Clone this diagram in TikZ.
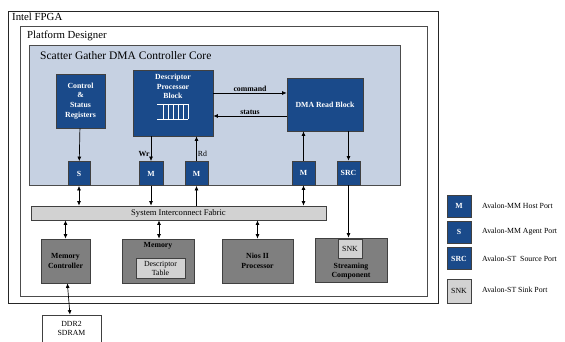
\documentclass[tikz,border=0pt]{standalone}
\usepackage{fontspec}
\setmainfont{Liberation Serif}
\usetikzlibrary{arrows.meta,positioning,calc}

\definecolor{dmablue}{HTML}{1A4A8A}
\definecolor{corefill}{HTML}{C6D1E2}
\definecolor{compgrey}{HTML}{7F7F7F}
\definecolor{fabricgrey}{HTML}{D2D2D2}

\begin{document}
\begin{tikzpicture}[x=1pt, y=-1pt,
  frame/.style={draw=black!85, line width=0.8pt, inner sep=0pt},
  block/.style={rectangle, draw=black!75, line width=0.7pt, fill=dmablue, text=white, font=\fontsize{7.8}{9.8}\selectfont\bfseries, align=center, inner sep=1pt},
  port/.style={block, minimum width=23pt, minimum height=24pt},
  comp/.style={rectangle, draw=black!75, line width=0.7pt, fill=compgrey, font=\fontsize{7.8}{9.8}\selectfont\bfseries, align=center, inner sep=0pt},
  lightbox/.style={rectangle, draw=black!75, line width=0.7pt, fill=fabricgrey, font=\fontsize{7.8}{9}\selectfont, align=center, inner sep=0pt},
  trans/.style={-{Latex[length=4.5pt,width=4pt]}, line width=0.7pt},
  both/.style={{Latex[length=4.5pt,width=4pt]}-{Latex[length=4.5pt,width=4pt]}, line width=0.7pt},
  lbl/.style={font=\fontsize{7.8}{9.5}\selectfont\bfseries, inner sep=1pt},
  legtext/.style={font=\fontsize{7.8}{9}\selectfont, anchor=west, inner sep=0pt}
]
\useasboundingbox (0,0) rectangle (565,342);
\fill[white] (0,0) rectangle (565,342);

% Frames
\draw[frame] (8,11) rectangle (438,303);
\node[anchor=base west, font=\fontsize{10.8}{12}\selectfont, inner sep=0pt] (fpga) at (12,21) {Intel FPGA};
\draw[frame, draw=black!70] (20,26) rectangle (427,296);
\node[anchor=base west, font=\fontsize{10.8}{12}\selectfont, inner sep=0pt] (pd) at (27,39) {Platform Designer};
\draw[draw=black!70, line width=0.8pt, fill=corefill] (29,45) rectangle (400,185);
\node[anchor=base west, font=\fontsize{11.5}{13}\selectfont, inner sep=0pt] (core) at (40,60) {Scatter Gather DMA Controller Core};

% Core blocks
\node[block, minimum width=49pt, minimum height=54pt] (csr) at (80.5,101) {Control\\\&\\Status\\Registers};
\node[block, minimum width=80pt, minimum height=66pt] (desc) at (173,103) {};
\node[lbl, text=white, align=center, anchor=north] (desclbl) at (173,73) {Descriptor\\Processor\\Block};
\node[block, minimum width=76pt, minimum height=53pt] (read) at (325,104.5) {DMA Read Block};

% fifo icon
\draw[white, line width=0.6pt] (157,104) -- (188,104) (157,119) -- (188,119);
\foreach \fx in {163,168,173,178,183,188}
  \draw[white, line width=0.6pt] (\fx,104) -- (\fx,119);

% Ports
\node[port, minimum width=22pt] (sport) at (79,173.5) {S};
\node[port, minimum width=24pt] (mwr) at (151,173.5) {M};
\node[port] (mrd) at (196.5,173.5) {M};
\node[port] (mread) at (303.5,173) {M};
\node[port] (src) at (348.5,173) {SRC};

% Fabric and system components
\node[lightbox, minimum width=295pt, minimum height=14pt, font=\fontsize{8.6}{9}\selectfont] (fabric) at (178.5,213) {System Interconnect Fabric};
\node[comp, minimum width=49pt, minimum height=44pt] (memctl) at (65.5,261) {Memory\\Controller};
\node[comp, minimum width=72pt, minimum height=44pt] (mem) at (158,261) {};
\node[lbl] (memlbl) at (158,245.5) {Memory};
\node[lightbox, minimum width=49pt, minimum height=20pt] (dtable) at (160.5,268) {Descriptor\\Table};
\node[comp, minimum width=71pt, minimum height=44pt] (nios) at (257.5,261) {Nios II\\Processor};
\node[comp, minimum width=72pt, minimum height=44pt] (stream) at (351,260) {};
\node[lightbox, minimum width=24pt, minimum height=19pt] (snk) at (350,248.5) {SNK};
\node[lbl, align=center] (streamlbl) at (351,271) {Streaming\\Component};
\node[rectangle, draw=black!75, line width=0.7pt, fill=white, minimum width=59pt, minimum height=36pt, inner sep=0pt] (ddr) at (71.5,333) {};
\node[font=\fontsize{7.8}{9.5}\selectfont, align=center, anchor=north, inner sep=0pt] (ddrlbl) at (71.5,321) {DDR2\\SDRAM};

% Connections inside the core
\draw[trans] (desc.east |- 0,93) -- node[lbl, above, text=black] {command} (read.west |- 0,93);
\draw[trans] (read.west |- 0,116) -- node[lbl, above, text=black] {status} (desc.east |- 0,116);
\draw[trans] (csr) -- (sport);
\draw[trans] (desc.south -| mwr) -- node[lbl, left, pos=0.7, text=black] {Wr} (mwr);
\draw[trans] (mrd) -- node[lbl, right, pos=0.3, text=black, font=\fontsize{7.8}{9}\selectfont] {Rd} (desc.south -| mrd);
\draw[trans] (mread) -- (read.south -| mread);
\draw[trans] (read.south -| src) -- (src);

% Connections to the fabric
\draw[both] (sport) -- (sport |- fabric.north);
\draw[trans] (mwr) -- (mwr |- fabric.north);
\draw[trans] (mrd |- fabric.north) -- (mrd);
\draw[both] (mread) -- (mread |- fabric.north);
\draw[both] (fabric.south -| memctl) -- (memctl);
\draw[both] (fabric.south -| 159,0) -- (mem.north -| 159,0);
\draw[both] (fabric.south -| nios) -- (nios);
\draw[trans] (src) -- (stream.north -| src);
\draw[both] (memctl) -- (ddr);

% Legend
\node[port, minimum width=24pt, minimum height=22pt] (legm) at (459,206) {M};
\node[port, minimum width=24pt, minimum height=22pt] (legs) at (459,232) {S};
\node[port, minimum width=24pt, minimum height=22pt] (legsrc) at (459,258.5) {SRC};
\node[lightbox, minimum width=24pt, minimum height=24pt] (legsnk) at (459,291) {SNK};
\node[legtext] (legmtxt) at (482,206) {Avalon-MM Host Port};
\node[legtext] (legstxt) at (482,232) {Avalon-MM Agent Port};
\node[legtext] (legsrctxt) at (482,258.5) {Avalon-ST\ \ Source Port};
\node[legtext] (legsnktxt) at (482,290) {Avalon-ST Sink Port};
\end{tikzpicture}
\end{document}
